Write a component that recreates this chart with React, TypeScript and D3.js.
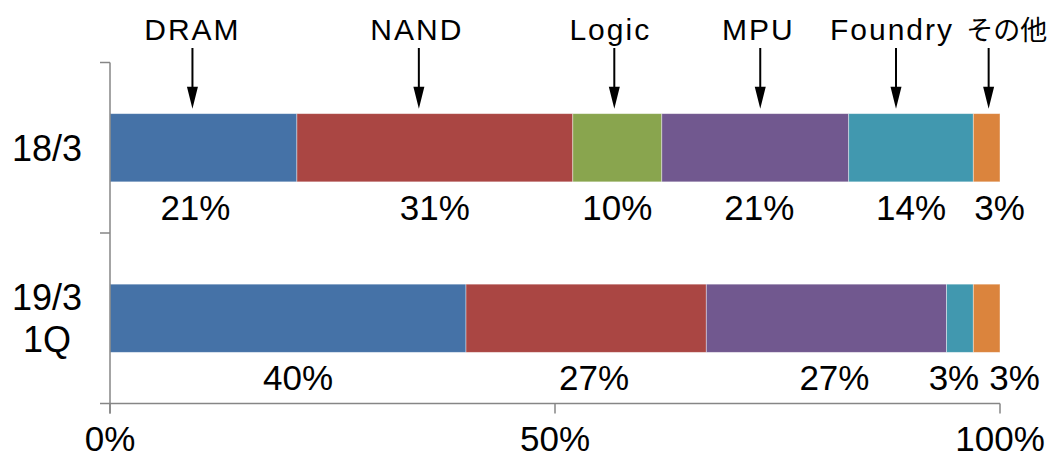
import React from "react";
import * as d3 from "d3";

// ---- data ----
const categories = ["18/3", "19/3\n1Q"];
const seriesNames = ["DRAM", "NAND", "Logic", "MPU", "Foundry", "その他"];
const dram = [21, 40];
const nand = [31, 27];
const logic = [10, 0];
const mpu = [21, 27];
const foundry = [14, 3];
const other = [3, 3];
const xTicks = [0, 50, 100];

// ---- styling ----
const colors = ["#4572A7", "#AA4643", "#89A54E", "#71588F", "#4198AF", "#DB843D"];
// manual label nudges (px), like the hand-placed text boxes of the original
const valueLabelNudge = [
  [-8, 0, 0, 4, 0, 13],
  [10, 8, 0, 8, -6, 28],
];
const arrowNudge = [-11, -16, -3, 5, -15, 2];
const titleNudge = [0, -2, -4, -2, -4, 18];

const W = 1053;
const H = 457;
const FONT = "'Liberation Sans', Arial, 'Noto Sans CJK JP', sans-serif";

export default function App() {
  const rows = categories.map((c, i) => ({
    cat: c,
    DRAM: dram[i],
    NAND: nand[i],
    Logic: logic[i],
    MPU: mpu[i],
    Foundry: foundry[i],
    その他: other[i],
  }));
  const stacked = d3.stack<any>().keys(seriesNames)(rows);

  const x = d3.scaleLinear().domain([0, 100]).range([110, 1000]);
  const y = d3
    .scaleBand<string>()
    .domain(categories)
    .range([62.5, 403.5])
    .paddingInner(0.6)
    .paddingOuter(0.3);
  const bandStep = y.step();
  const bandTop0 = y(categories[0])! - y.paddingOuter() * bandStep;
  const boundaries = [0, 1, 2].map((k) => bandTop0 + k * bandStep);
  const axisY = boundaries[2];
  const axisColor = "#868686";
  const barTop = y(categories[0])!;
  const tipY = barTop - 5;

  return (
    <svg
      width={W}
      height={H}
      style={{ position: "absolute", left: 0, top: 0, background: "#fff" }}
      fontFamily={FONT}
    >
      {/* bars */}
      {stacked.map((s, si) => (
        <g key={s.key} fill={colors[si]}>
          {s.map((d, ci) =>
            d[1] - d[0] > 0 ? (
              <rect
                key={ci}
                x={x(d[0])}
                y={y(categories[ci])}
                width={x(d[1]) - x(d[0])}
                height={y.bandwidth()}
                stroke="#ffffff"
                strokeOpacity={0.5}
                strokeWidth={0.8}
              />
            ) : null
          )}
        </g>
      ))}

      {/* value labels */}
      {stacked.map((s, si) =>
        s.map((d, ci) => {
          const v = d[1] - d[0];
          if (v <= 0) return null;
          const cx = x((d[0] + d[1]) / 2) + valueLabelNudge[ci][si];
          const yy = y(categories[ci])! + y.bandwidth() + 38;
          return (
            <text key={`${si}-${ci}`} x={cx} y={yy} textAnchor="middle" fontSize={35} fill="#000">
              {`${v}%`}
            </text>
          );
        })
      )}

      {/* annotations with arrows (top) */}
      {stacked.map((s, si) => {
        const d = s[0];
        const ax = x((d[0] + d[1]) / 2) + arrowNudge[si];
        return (
          <g key={`a-${si}`}>
            <line x1={ax} x2={ax} y1={48} y2={tipY - 18} stroke="#000" strokeWidth={2} />
            <path
              d={`M${ax - 5.5},${tipY - 22} L${ax + 5.5},${tipY - 22} L${ax},${tipY} Z`}
              fill="#000"
            />
            <text
              x={ax + titleNudge[si]}
              y={40}
              textAnchor="middle"
              fontSize={si === 5 ? 27 : 30}
              letterSpacing={si === 5 ? 0 : 2}
              fill="#000"
              fontFamily={si === 5 ? "'Noto Sans CJK JP', sans-serif" : FONT}
            >
              {seriesNames[si]}
            </text>
          </g>
        );
      })}

      {/* y axis */}
      <line x1={x(0)} x2={x(0)} y1={boundaries[0]} y2={axisY + 10} stroke={axisColor} strokeWidth={1.5} />
      {boundaries.map((b, i) => (
        <line key={i} x1={x(0) - 10} x2={x(0)} y1={b} y2={b} stroke={axisColor} strokeWidth={1.5} />
      ))}
      {categories.map((c) => {
        const lines = c.split("\n");
        const cy = y(c)! + y.bandwidth() / 2;
        const lh = 42;
        return lines.map((ln, li) => (
          <text
            key={`${c}-${li}`}
            x={47}
            y={cy + 13 + (li - (lines.length - 1) / 2) * lh}
            textAnchor="middle"
            fontSize={36}
            fill="#000"
          >
            {ln}
          </text>
        ));
      })}

      {/* x axis */}
      <line x1={x(0)} x2={x(100)} y1={axisY} y2={axisY} stroke={axisColor} strokeWidth={1.5} />
      {xTicks.map((t) => (
        <g key={t}>
          <line x1={x(t)} x2={x(t)} y1={axisY} y2={axisY + 10} stroke={axisColor} strokeWidth={1.5} />
          <text x={x(t)} y={451} textAnchor="middle" fontSize={35} fill="#000">
            {`${t}%`}
          </text>
        </g>
      ))}
    </svg>
  );
}
